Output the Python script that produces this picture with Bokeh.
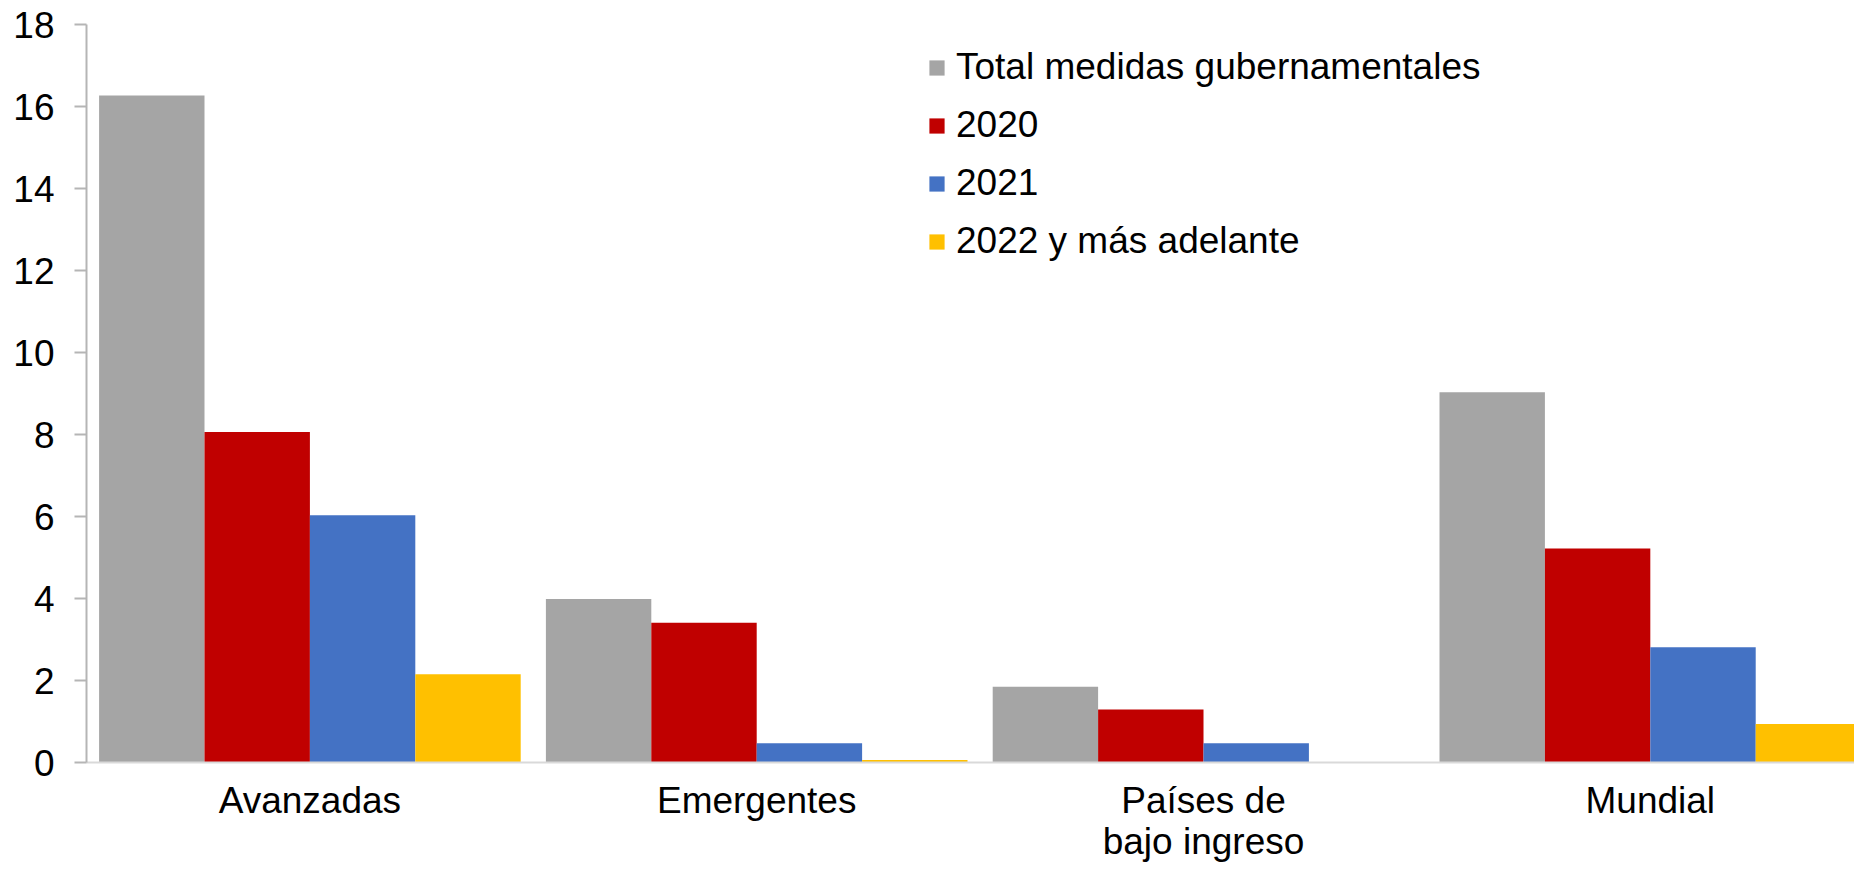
from bokeh.plotting import figure
from bokeh.models import ColumnDataSource, FixedTicker, Legend, LegendItem, Range1d
from bokeh.transform import dodge
from bokeh.embed import file_html
from bokeh.resources import INLINE

# ---- data ----
categories = ["Avanzadas", "Emergentes", "Países de bajo ingreso", "Mundial"]
category_labels = ["Avanzadas", "Emergentes", "Países de\nbajo ingreso", "Mundial"]
series_names = ["Total medidas gubernamentales", "2020", "2021", "2022 y más adelante"]
total = [16.27, 3.99, 1.85, 9.03]
y2020 = [8.06, 3.41, 1.29, 5.22]
y2021 = [6.03, 0.47, 0.47, 2.81]
y2022 = [2.15, 0.06, 0.01, 0.94]
colors = ["#A5A5A5", "#C00000", "#4472C4", "#FFC000"]
y_ticks = list(range(0, 19, 2))

series_values = [total, y2020, y2021, y2022]

FONT = "Liberation Sans"
FS = "37px"
BAR_W = 0.2359

centers = [i + 0.5 for i in range(len(categories))]
data = {"x": centers, "cat": categories}
for name, vals in zip(series_names, series_values):
    data[name] = vals
source = ColumnDataSource(data)

p = figure(
    width=1854, height=865,
    x_range=Range1d(0, 3.957), y_range=Range1d(0, 18),
    output_backend="svg", toolbar_location=None,
    min_border_left=86, min_border_right=0, min_border_top=24, min_border_bottom=103,
)
p.outline_line_color = None
p.xgrid.grid_line_color = None
p.ygrid.grid_line_color = None
p.background_fill_color = "white"
p.border_fill_color = "white"

renderers = []
for k, (name, col) in enumerate(zip(series_names, colors)):
    off = (k - 1.5) * BAR_W
    r = p.vbar(x=dodge("x", off), top=name, width=BAR_W, bottom=0,
               source=source, fill_color=col, line_color=None)
    renderers.append(r)

# y axis
ya = p.yaxis[0]
ya.ticker = FixedTicker(ticks=y_ticks)
ya.axis_line_color = "#B5B5B5"
ya.axis_line_width = 2
ya.major_tick_line_color = "#B5B5B5"
ya.major_tick_line_width = 2
ya.major_tick_out = 12
ya.major_tick_in = 0
ya.minor_tick_line_color = None
ya.major_label_text_font = FONT
ya.major_label_text_font_size = FS
ya.major_label_text_color = "black"
ya.major_label_standoff = 20

# x axis
xa = p.xaxis[0]
xa.ticker = FixedTicker(ticks=centers)
xa.major_label_overrides = {c: lab for c, lab in zip(centers, category_labels)}
xa.axis_line_color = "#D9D9D9"
xa.axis_line_width = 2
xa.major_tick_line_color = None
xa.major_tick_out = 0
xa.major_tick_in = 0
xa.minor_tick_line_color = None
xa.major_label_text_font = FONT
xa.major_label_text_font_size = FS
xa.major_label_text_color = "black"
xa.major_label_text_line_height = 1.0
xa.major_label_standoff = 17

items = [LegendItem(label=n, renderers=[r]) for n, r in zip(series_names, renderers)]
legend = Legend(
    items=items, location=(841, 492),
    glyph_width=19, glyph_height=19, label_height=58, spacing=0,
    padding=0, margin=0, label_standoff=10,
    label_text_font=FONT, label_text_font_size=FS, label_text_color="black",
    border_line_color=None, background_fill_alpha=0,
)
p.add_layout(legend, "center")

open("out.html", "w").write(file_html(p, INLINE))
